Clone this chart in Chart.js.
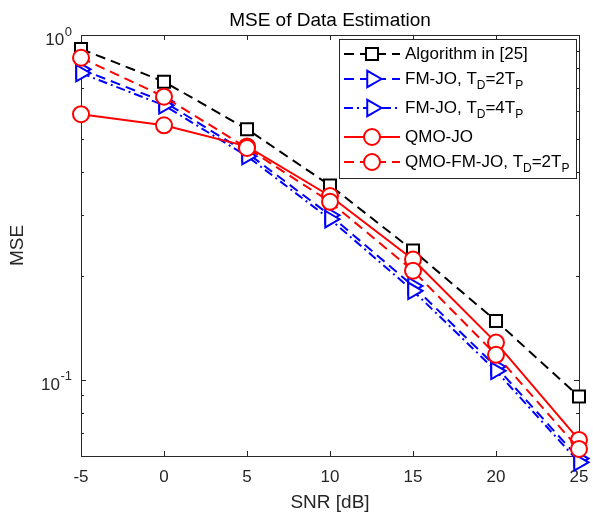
<!DOCTYPE html>
<html><head><meta charset="utf-8">
<script src="https://cdn.jsdelivr.net/npm/chart.js@4/dist/chart.umd.min.js"></script>
<style>html,body{margin:0;padding:0;background:#fff}</style>
</head><body>
<canvas id="c" width="593" height="514"></canvas>
<script>
// ---- data ----
const snr = [-5, 0, 5, 10, 15, 20, 25];
const algo25   = [0.911, 0.732, 0.533, 0.366, 0.237, 0.148, 0.0893];
const fmjo2    = [0.795, 0.640, 0.455, 0.300, 0.187, 0.109, 0.0590];
const fmjo4    = [0.775, 0.625, 0.445, 0.292, 0.181, 0.106, 0.0575];
const qmojo    = [0.589, 0.547, 0.475, 0.341, 0.223, 0.128, 0.0668];
const qmofmjo  = [0.859, 0.662, 0.470, 0.328, 0.207, 0.118, 0.0629];
const xTicks = [-5, 0, 5, 10, 15, 20, 25];
const yMajor = [1, 0.1];
const yMajorExp = ['0', '-1'];
const yMinor = [0.07, 0.08, 0.09, 0.2, 0.3, 0.4, 0.5, 0.6, 0.7, 0.8, 0.9];
const seriesNames = ['Algorithm in [25]', 'FM-JO, TD=2TP', 'FM-JO, TD=4TP', 'QMO-JO', 'QMO-FM-JO, TD=2TP'];
// legend labels as [text, isSubscript] segments
const legendLabels = [
  [['Algorithm in [25]', 0]],
  [['FM-JO, T', 0], ['D', 1], ['=2T', 0], ['P', 1]],
  [['FM-JO, T', 0], ['D', 1], ['=4T', 0], ['P', 1]],
  [['QMO-JO', 0]],
  [['QMO-FM-JO, T', 0], ['D', 1], ['=2T', 0], ['P', 1]]
];
const FONT = 'Liberation Sans, Arial, Helvetica, sans-serif';
const AX = '#262626';

function pts(arr) { return snr.map((x, i) => ({x: x, y: arr[i]})); }

function mk(label, vals, color, dash, style, radius, rot, order) {
  return {
    label: label, data: pts(vals), borderColor: color, borderWidth: 2, borderDash: dash,
    pointStyle: style, pointRadius: radius, pointHoverRadius: radius, pointRotation: rot,
    pointBorderColor: color, pointBackgroundColor: '#ffffff', pointBorderWidth: 2,
    fill: false, tension: 0, clip: false, order: order
  };
}

const datasets = [
  mk(seriesNames[0], algo25, '#000000', [10, 6], 'rect', 8.5, 0, 4),
  mk(seriesNames[1], fmjo2, '#0000ff', [10, 6], 'triangle', 9.5, 90, 3),
  mk(seriesNames[2], fmjo4, '#0000ff', [9, 4, 2, 4], 'triangle', 9.5, 90, 2),
  mk(seriesNames[3], qmojo, '#ff0000', [], 'circle', 8, 0, 1),
  mk(seriesNames[4], qmofmjo, '#ff0000', [10, 6], 'circle', 8, 0, 0)
];

function drawRich(ctx, segs, x, y) {
  let cx = x;
  ctx.textAlign = 'left';
  ctx.textBaseline = 'middle';
  ctx.fillStyle = '#000';
  segs.forEach(s => {
    if (s[1]) {
      ctx.font = '12px ' + FONT;
      ctx.fillText(s[0], cx, y + 7);
    } else {
      ctx.font = '17px ' + FONT;
      ctx.fillText(s[0], cx, y);
    }
    cx += ctx.measureText(s[0]).width;
  });
}

function zeroPad(s) { s.paddingLeft = 0; s.paddingRight = 0; s.paddingTop = 0; s.paddingBottom = 0; }

const axesPlugin = {
  id: 'matlabAxes',
  beforeDatasetsDraw(chart) {
    const ctx = chart.ctx, a = chart.chartArea;
    const xs = chart.scales.x, ys = chart.scales.y;
    ctx.save();
    ctx.strokeStyle = AX; ctx.lineWidth = 1;
    ctx.strokeRect(Math.round(a.left) + 0.5, Math.round(a.top) + 0.5, Math.round(a.right - a.left), Math.round(a.bottom - a.top));
    ctx.beginPath();
    xTicks.forEach(v => {
      const px = Math.round(xs.getPixelForValue(v)) + 0.5;
      ctx.moveTo(px, a.bottom); ctx.lineTo(px, a.bottom - 5);
      ctx.moveTo(px, a.top); ctx.lineTo(px, a.top + 5);
    });
    yMajor.forEach(v => {
      const py = Math.round(ys.getPixelForValue(v)) + 0.5;
      ctx.moveTo(a.left, py); ctx.lineTo(a.left + 5, py);
      ctx.moveTo(a.right, py); ctx.lineTo(a.right - 5, py);
    });
    yMinor.forEach(v => {
      const py = Math.round(ys.getPixelForValue(v)) + 0.5;
      ctx.moveTo(a.left, py); ctx.lineTo(a.left + 3, py);
      ctx.moveTo(a.right, py); ctx.lineTo(a.right - 3, py);
    });
    ctx.stroke();
    // y tick labels 10^e
    ctx.fillStyle = AX; ctx.textBaseline = 'middle'; ctx.textAlign = 'right';
    yMajor.forEach((v, i) => {
      const py = ys.getPixelForValue(v);
      const rx = a.left - 9;
      ctx.font = '13px ' + FONT;
      const ew = ctx.measureText(yMajorExp[i]).width;
      ctx.fillText(yMajorExp[i], rx, py - 3);
      ctx.font = '17px ' + FONT;
      ctx.fillText('10', rx - ew - 0.5, py + 5.5);
    });
    ctx.restore();
  },
  afterDraw(chart) {
    const ctx = chart.ctx;
    ctx.save();
    const bx = 339, by = 39, bw = 237, bh = 139;
    ctx.fillStyle = '#fff'; ctx.fillRect(bx, by, bw, bh);
    ctx.strokeStyle = AX; ctx.lineWidth = 1; ctx.strokeRect(bx + 0.5, by + 0.5, bw, bh);
    const rows = [54, 79, 108, 137, 162];
    chart.data.datasets.forEach((ds, i) => {
      const y = rows[i];
      ctx.save();
      ctx.strokeStyle = ds.borderColor; ctx.lineWidth = ds.borderWidth;
      ctx.setLineDash(ds.borderDash || []);
      ctx.beginPath(); ctx.moveTo(344, y); ctx.lineTo(400, y); ctx.stroke();
      ctx.setLineDash([]);
      ctx.fillStyle = '#ffffff'; ctx.strokeStyle = ds.pointBorderColor; ctx.lineWidth = ds.pointBorderWidth;
      Chart.helpers.drawPoint(ctx, {pointStyle: ds.pointStyle, radius: ds.pointRadius, rotation: ds.pointRotation || 0, borderWidth: ds.pointBorderWidth}, 372, y);
      ctx.restore();
      drawRich(ctx, legendLabels[i], 405, y);
    });
    ctx.restore();
  }
};

new Chart(document.getElementById('c'), {
  type: 'line',
  data: { datasets: datasets },
  options: {
    responsive: false, animation: false, devicePixelRatio: 1,
    layout: { padding: { left: 0, right: 14, top: 0, bottom: 0 } },
    plugins: {
      legend: { display: false },
      tooltip: { enabled: false },
      title: { display: true, fullSize: false, text: 'MSE of Data Estimation', color: '#000',
        font: { family: FONT, size: 19, weight: 'normal', lineHeight: 1.2 },
        padding: { top: 9.6, bottom: 2.6 } }
    },
    scales: {
      x: {
        type: 'linear', min: -5, max: 25,
        afterBuildTicks: s => { s.ticks = xTicks.map(v => ({value: v})); },
        afterFit: s => { s.height = 58; zeroPad(s); },
        grid: { display: false, drawTicks: false }, border: { display: false },
        ticks: { color: AX, font: { family: FONT, size: 17 }, padding: 11, maxRotation: 0, autoSkip: false },
        title: { display: true, text: 'SNR [dB]', color: AX, font: { family: FONT, size: 19, lineHeight: 1.0 }, padding: { top: 0, bottom: 2 } }
      },
      y: {
        type: 'logarithmic', min: 0.06, max: 1,
        afterFit: s => { s.width = 81; zeroPad(s); },
        grid: { display: false, drawTicks: false }, border: { display: false },
        ticks: { display: false },
        title: { display: true, text: 'MSE', color: AX, font: { family: FONT, size: 19 }, padding: { top: 6.6, bottom: 0 } }
      }
    }
  },
  plugins: [axesPlugin]
});
</script>
</body></html>
